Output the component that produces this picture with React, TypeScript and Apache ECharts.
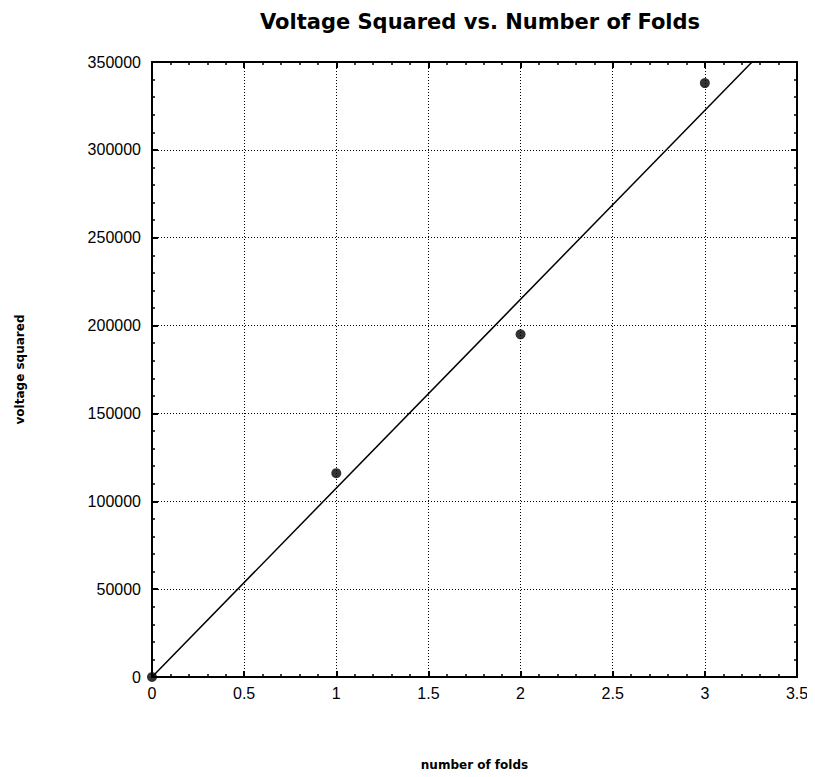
import React, { useEffect, useRef } from "react";
import * as echarts from "echarts";

const folds = [0, 1, 2, 3];
const voltageSquared = [0, 116000, 195000, 338000];
const fitLine = [
  [0, 0],
  [3.256, 350000],
];
const xTicks = [0, 0.5, 1, 1.5, 2, 2.5, 3, 3.5];

export default function App() {
  const ref = useRef<HTMLDivElement>(null);
  useEffect(() => {
    if (!ref.current) return;
    const chart = echarts.init(ref.current, undefined, { renderer: "svg" });
    const font = "Liberation Sans, Arial, sans-serif";
    const titleFont = "DejaVu Sans, sans-serif";
    const commonAxis = {
      axisLine: { show: true, onZero: false, lineStyle: { color: "#000", width: 2 } },
      axisTick: { show: true, inside: true, length: 6, lineStyle: { color: "#000", width: 2 } },
      minorTick: { show: true, splitNumber: 5, length: 3, lineStyle: { color: "#000", width: 1.5 } },
    };
    chart.setOption({
      animation: false,
      backgroundColor: "#fff",
      title: {
        text: "Voltage Squared vs. Number of Folds",
        left: 475,
        top: 6,
        textAlign: "center",
        textStyle: { fontFamily: titleFont, fontWeight: "bold", fontSize: 21, color: "#000" },
      },
      grid: { left: 152, right: 18, top: 62, bottom: 100 },
      xAxis: [
        {
          type: "value",
          min: 0,
          max: 3.5,
          interval: 0.5,
          name: "number of folds",
          nameLocation: "middle",
          nameGap: 82,
          nameTextStyle: { fontFamily: titleFont, fontSize: 12, color: "#000", fontWeight: "bold" },
          ...commonAxis,
          axisLabel: {
            fontFamily: font,
            fontSize: 16,
            color: "#000",
            margin: 8,
            formatter: (v: number) => (xTicks.includes(v) ? String(v) : ""),
          },
          splitLine: { show: true, lineStyle: { color: "#000", type: [1, 2], width: 1 } },
        },
        {
          type: "value",
          position: "top",
          min: 0,
          max: 3.5,
          interval: 0.5,
          ...commonAxis,
          axisLabel: { show: false },
          splitLine: { show: false },
        },
      ],
      yAxis: [
        {
          type: "value",
          min: 0,
          max: 350000,
          interval: 50000,
          name: "voltage squared",
          nameLocation: "middle",
          nameGap: 126,
          nameRotate: 90,
          nameTextStyle: { fontFamily: titleFont, fontSize: 12, color: "#000", fontWeight: "bold" },
          ...commonAxis,
          axisLabel: {
            fontFamily: font,
            fontSize: 16,
            color: "#000",
            margin: 11,
            formatter: (v: number) => String(v),
          },
          splitLine: { show: true, lineStyle: { color: "#000", type: [1, 2], width: 1 } },
        },
        {
          type: "value",
          position: "right",
          min: 0,
          max: 350000,
          interval: 50000,
          ...commonAxis,
          axisLabel: { show: false },
          splitLine: { show: false },
        },
      ],
      series: [
        {
          type: "line",
          data: fitLine,
          symbol: "none",
          lineStyle: { color: "#000", width: 1.5 },
          z: 3,
        },
        {
          type: "scatter",
          data: folds.map((f, i) => [f, voltageSquared[i]]),
          symbol: "circle",
          symbolSize: 10,
          itemStyle: { color: "#000" },
          z: 4,
        },
      ],
    });
    return () => chart.dispose();
  }, []);
  return <div ref={ref} style={{ width: 815, height: 777, margin: -8 }} />;
}
